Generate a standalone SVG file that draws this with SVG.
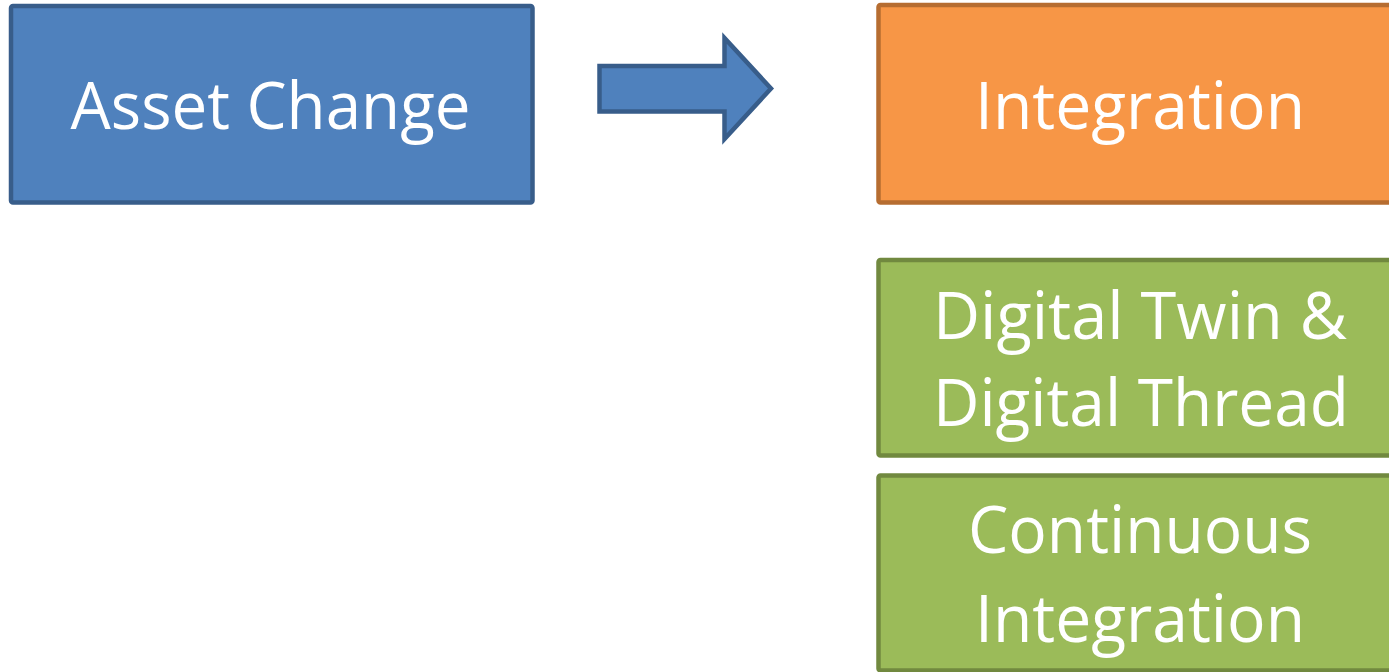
<svg xmlns="http://www.w3.org/2000/svg" width="1389" height="672" viewBox="0 0 1389 672">
<style>
.box{stroke-width:4.5}
.blue{fill:#4F81BD;stroke:#385D8A}
.orange{fill:#F79646;stroke:#B66D31}
.green{fill:#9BBB59;stroke:#71893F}
.lbl{font-family:"Open Sans","Liberation Sans",sans-serif;font-size:66px;fill:#FFFFFF;text-anchor:middle}
</style>
<rect width="1389" height="672" fill="#FFFFFF"/>
<g id="asset-change">
<rect class="box blue" x="11" y="6" width="521.5" height="196.5" rx="2"/>
<text class="lbl" x="270.5" y="128.5" textLength="400" lengthAdjust="spacingAndGlyphs">Asset Change</text>
</g>
<g id="connectors">
<polygon class="box blue" stroke-linejoin="miter" points="599.5,66 724.5,66 724.5,38 771,88.5 724.5,139 724.5,111.5 599.5,111.5"/>
</g>
<g id="integration">
<rect class="box orange" x="878.5" y="5" width="523" height="197.5" rx="2"/>
<text class="lbl" x="1140" y="128.5" textLength="330" lengthAdjust="spacingAndGlyphs">Integration</text>
</g>
<g id="digital-twin">
<rect class="box green" x="878.5" y="260" width="523" height="195.5" rx="2"/>
<text class="lbl" x="1140" y="338.5" textLength="414" lengthAdjust="spacingAndGlyphs">Digital Twin &amp;</text>
<text class="lbl" x="1141" y="426" textLength="416" lengthAdjust="spacingAndGlyphs">Digital Thread</text>
</g>
<g id="continuous-integration">
<rect class="box green" x="878.5" y="475.5" width="523" height="195" rx="2"/>
<text class="lbl" x="1140" y="553" textLength="344" lengthAdjust="spacingAndGlyphs">Continuous</text>
<text class="lbl" x="1140" y="642" textLength="330" lengthAdjust="spacingAndGlyphs">Integration</text>
</g>
</svg>
